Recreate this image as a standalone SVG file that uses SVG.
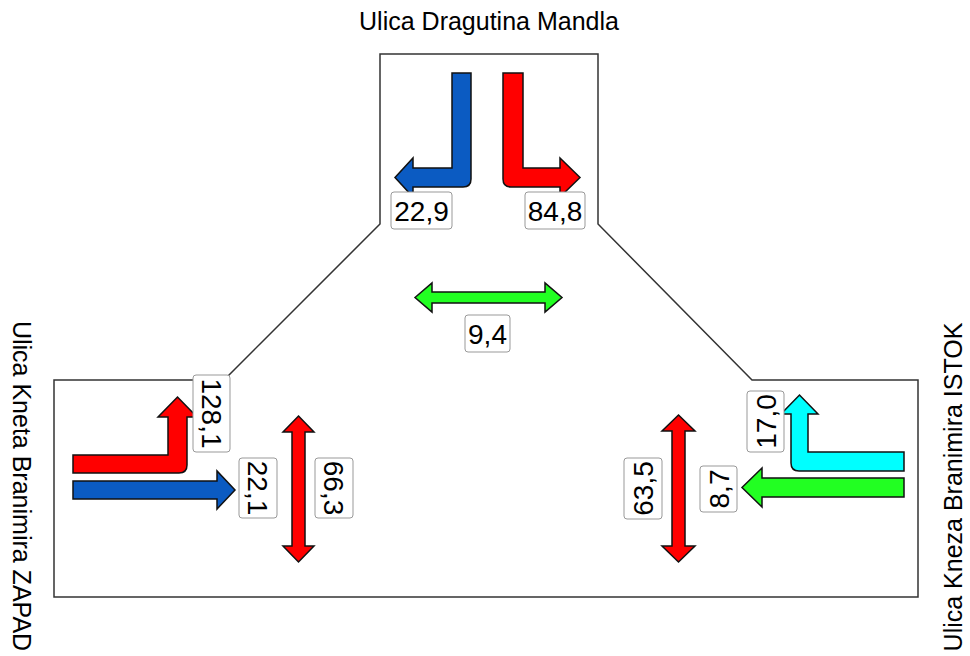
<svg xmlns="http://www.w3.org/2000/svg" width="970" height="656" viewBox="0 0 970 656">
<style>
.outline{fill:none;stroke:#333;stroke-width:1.5}
.arr{stroke:#111;stroke-width:1.5;stroke-linejoin:miter}
.red{fill:#ff0000}.blue{fill:#0b5bc2}.green{fill:#22ff22}.cyan{fill:#00ffff}
.lbl rect{fill:#fff;stroke:#999;stroke-width:1}
.lbl text{font-family:"Liberation Sans",Arial,sans-serif;font-size:28px;fill:#000;text-anchor:middle}
.title{font-family:"Liberation Sans",Arial,sans-serif;font-size:25px;fill:#000;text-anchor:middle}
</style>
<rect width="970" height="656" fill="#fff"/>
<g id="outline">
<polygon class="outline" points="380,54 598,54 598,224 752,380 918,380 918,597 54,597 54,380 224,380 380,224"/>
</g>
<g id="titles">
<text class="title" x="489" y="30">Ulica Dragutina Mandla</text>
<text class="title" transform="translate(13,486) rotate(90)">Ulica Kneta Branimira ZAPAD</text>
<text class="title" transform="translate(962,487) rotate(-90)">Ulica Kneza Branimira ISTOK</text>
</g>
<g id="connectors">
<path id="n-left-top" class="arr blue" d="M452,73 L471,73 L471,179 Q471,187 463,187 L413,187 L413,197 L395,177.5 L413,158 L413,168 L452,168 Z"/>
<path id="n-right-top" class="arr red" d="M503,73 L523,73 L523,168 L560,168 L560,158 L580,177.5 L560,197 L560,187 L511,187 Q503,187 503,179 Z"/>
<path id="ped-center" class="arr green" d="M415,297.5 L432,283 L432,292 L545,292 L545,283 L562,297.5 L545,312 L545,303 L432,303 L432,312 Z"/>
<path id="w-left-turn" class="arr red" d="M73,455 L168,455 L168,417 L158,417 L177.5,397 L197,417 L187,417 L187,465 Q187,473 179,473 L73,473 Z"/>
<path id="w-straight" class="arr blue" d="M73,481 L217,481 L217,471 L235,490 L217,509 L217,499 L73,499 Z"/>
<path id="ped-west" class="arr red" d="M298.5,416 L314,432 L305,432 L305,546 L314,546 L298.5,562 L283,546 L292,546 L292,432 L283,432 Z"/>
<path id="e-right-turn" class="arr cyan" d="M904,452 L808,452 L808,414 L818,414 L799.5,395 L781,414 L791,414 L791,463 Q791,471 799,471 L904,471 Z"/>
<path id="e-straight" class="arr green" d="M904,478 L762,478 L762,468 L742,487.5 L762,507 L762,497 L904,497 Z"/>
<path id="ped-east" class="arr red" d="M678.5,415 L695,431 L685,431 L685,546 L695,546 L678.5,562 L662,546 L672,546 L672,431 L662,431 Z"/>
</g>
<g id="label-229" class="lbl" transform="translate(421.5,210.5)"><rect x="-30.5" y="-18.5" width="61" height="37" rx="3"/><text y="10">22,9</text></g>
<g id="label-848" class="lbl" transform="translate(555,210.5)"><rect x="-30" y="-18.5" width="60" height="37" rx="3"/><text y="10">84,8</text></g>
<g id="label-94" class="lbl" transform="translate(487.5,333.5)"><rect x="-22.5" y="-18.5" width="45" height="37" rx="3"/><text y="10">9,4</text></g>
<g id="label-1281" class="lbl" transform="translate(211.5,413.5) rotate(90)"><rect x="-38.5" y="-18.5" width="77" height="37" rx="3"/><text y="10">128,1</text></g>
<g id="label-221" class="lbl" transform="translate(258,488) rotate(90)"><rect x="-30" y="-19" width="60" height="38" rx="3"/><text y="10">22,1</text></g>
<g id="label-663" class="lbl" transform="translate(334,488) rotate(90)"><rect x="-30" y="-19" width="60" height="38" rx="3"/><text y="10">66,3</text></g>
<g id="label-170" class="lbl" transform="translate(765.5,421.5) rotate(-90)"><rect x="-30.5" y="-18.5" width="61" height="37" rx="3"/><text y="10">17,0</text></g>
<g id="label-87" class="lbl" transform="translate(718.5,489) rotate(-90)"><rect x="-23" y="-18.5" width="46" height="37" rx="3"/><text y="10">8,7</text></g>
<g id="label-635" class="lbl" transform="translate(643,488.5) rotate(-90)"><rect x="-30.5" y="-19" width="61" height="38" rx="3"/><text y="10">63,5</text></g>
</svg>
